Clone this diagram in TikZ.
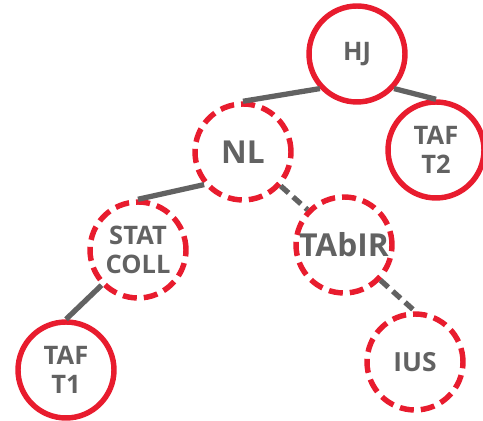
\documentclass[tikz,border=0pt]{standalone}
\usepackage{fontspec}
\setmainfont{Open Sans}
\definecolor{nodered}{RGB}{232,28,46}
\definecolor{linkgrey}{RGB}{98,98,98}

\begin{document}
\begin{tikzpicture}[x=0.02cm,y=-0.02cm]
	\tikzstyle{every node}+=[inner sep=0pt, align=center, text=linkgrey, font=\bfseries\fontsize{14.5}{16.5}\selectfont]
	\tikzstyle{fixed}=[circle, draw=nodered, line width=3.1pt, minimum size=1.92cm]
	\tikzstyle{loose}=[fixed, dash pattern=on 8pt off 4pt]
	\tikzstyle{link}=[draw=linkgrey, line width=3pt]
	\tikzstyle{weaklink}=[link, dash pattern=on 6pt off 3.4pt]
	\useasboundingbox (0,0) rectangle (483,421);
	\node [fixed] (hj) at (357,54) {HJ};
	\node [fixed] (taft2) at (436,150) {TAF\\T2};
	\node [loose, font=\bfseries\fontsize{18}{20}\selectfont] (nl) at (243,152) {NL};
	\node [loose] (statcoll) at (138,250) {STAT\\COLL};
	\node [loose, font=\bfseries\fontsize{18}{20}\selectfont] (tabir) at (344,245) {TAbIR};
	\node [fixed] (taft1) at (66,370) {TAF\\T1};
	\node [loose, font=\bfseries\fontsize{15}{17}\selectfont] (ius) at (415,362) {IUS};
	\draw [link] (hj.223) -- (nl.north);
	\draw [link] (hj.317) -- (taft2.north);
	\draw [link] (nl.220) -- (statcoll.north);
	\draw [weaklink] (nl.318) -- (tabir.136);
	\draw [link] (statcoll.224) -- (taft1.north);
	\draw [weaklink] (tabir.316) -- (ius.north);
\end{tikzpicture}
\end{document}
